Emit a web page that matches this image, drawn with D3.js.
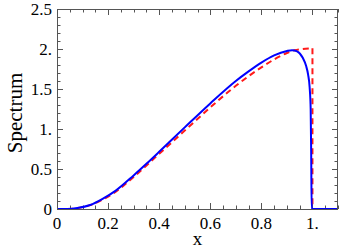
<!DOCTYPE html>
<html>
<head>
<meta charset="utf-8">
<script src="https://cdn.jsdelivr.net/npm/d3@7"></script>
<style>
  body { margin: 0; background: #fff; }
  svg { display: block; font-family: "Liberation Serif", "DejaVu Serif", serif; }
</style>
</head>
<body>
<svg></svg>
<script>
const width = 339;
const height = 249;
const margin = {top: 9, right: 1, bottom: 40, left: 57};

// blue (solid) curve
const blueX = [0, 0.04, 0.08, 0.13, 0.18, 0.23, 0.3, 0.35, 0.4, 0.5, 0.6, 0.7, 0.75, 0.8, 0.85, 0.9, 0.92, 0.94, 0.962, 0.975, 0.983, 0.989, 0.993, 0.995, 0.997, 1.1];
const blueY = [0, 0, 0.012, 0.05, 0.13, 0.23, 0.42, 0.565, 0.715, 1.02, 1.32, 1.6, 1.72, 1.83, 1.92, 1.975, 1.985, 1.97, 1.89, 1.79, 1.68, 1.52, 1.25, 0.7, 0, 0];

// red (dashed) curve, then its drop at x = 1
const redX = [0, 0.04, 0.08, 0.13, 0.18, 0.23, 0.3, 0.4, 0.5, 0.6, 0.7, 0.75, 0.8, 0.85, 0.9, 0.93, 0.96, 1.0];
const redY = [0, 0, 0.012, 0.048, 0.12, 0.215, 0.40, 0.69, 0.98, 1.27, 1.54, 1.66, 1.77, 1.87, 1.95, 1.985, 2.0, 2.01];
const redDropX = [1.0, 1.0, 1.1];
const redDropY = [2.01, 0, 0];

const xTicks = [0, 0.2, 0.4, 0.6, 0.8, 1.0];
const xTickLabels = ["0", "0.2", "0.4", "0.6", "0.8", "1."];
const yTicks = [0, 0.5, 1.0, 1.5, 2.0, 2.5];
const yTickLabels = ["0", "0.5", "1.", "1.5", "2.", "2.5"];

const svg = d3.select("svg")
  .attr("width", width)
  .attr("height", height);

const xScale = d3.scaleLinear()
  .domain([0, 1.1])
  .range([margin.left, width - margin.right]);

const yScale = d3.scaleLinear()
  .domain([0, 2.5])
  .range([height - margin.bottom, margin.top]);

const frameColor = "#555";
const x0 = xScale(0), x1 = xScale(1.1), y0 = yScale(0), y1 = yScale(2.5);

// minor + major ticks on all four sides
const xMinor = d3.range(0, 1.1001, 0.05);
const yMinor = d3.range(0, 2.5001, 0.1);
const isMajor = (v, step) => Math.abs(v / step - Math.round(v / step)) < 1e-6;

const ticks = svg.append("g").attr("stroke", frameColor).attr("stroke-width", 1);
xMinor.forEach(v => {
  const len = isMajor(v, 0.2) ? 6 : 3.5;
  const x = Math.round(xScale(v)) + 0.5;
  ticks.append("line").attr("x1", x).attr("x2", x).attr("y1", y0).attr("y2", y0 - len);
  ticks.append("line").attr("x1", x).attr("x2", x).attr("y1", y1).attr("y2", y1 + len);
});
yMinor.forEach(v => {
  const len = isMajor(v, 0.5) ? 6 : 3.5;
  const y = Math.round(yScale(v)) + 0.5;
  ticks.append("line").attr("x1", x0).attr("x2", x0 + len).attr("y1", y).attr("y2", y);
  ticks.append("line").attr("x1", x1).attr("x2", x1 - len).attr("y1", y).attr("y2", y);
});

// curves
const blueData = blueX.map((x, i) => [x, blueY[i]]);
const redData = redX.map((x, i) => [x, redY[i]]);
const redDrop = redDropX.map((x, i) => [x, redDropY[i]]);

const smooth = d3.line()
  .x(d => xScale(d[0]))
  .y(d => yScale(d[1]))
  .curve(d3.curveMonotoneX);

const straight = d3.line()
  .x(d => xScale(d[0]))
  .y(d => yScale(d[1]));

svg.append("path")
  .attr("d", smooth(redData))
  .attr("fill", "none")
  .attr("stroke", "#ff1a1a")
  .attr("stroke-width", 2)
  .attr("stroke-dasharray", "6,4");

svg.append("path")
  .attr("d", straight(redDrop))
  .attr("fill", "none")
  .attr("stroke", "#ff1a1a")
  .attr("stroke-width", 2)
  .attr("stroke-dasharray", "6,4");

svg.append("path")
  .attr("d", smooth(blueData))
  .attr("fill", "none")
  .attr("stroke", "#0000ff")
  .attr("stroke-width", 2);

// frame
svg.append("rect")
  .attr("x", x0 + 0.5)
  .attr("y", y1 + 0.5)
  .attr("width", x1 - x0 - 1)
  .attr("height", y0 - y1)
  .attr("fill", "none")
  .attr("stroke", frameColor)
  .attr("stroke-width", 1);

// tick labels
svg.append("g")
  .selectAll("text")
  .data(xTicks)
  .enter()
  .append("text")
    .attr("x", d => xScale(d))
    .attr("y", y0 + 20)
    .attr("text-anchor", "middle")
    .attr("font-size", 17)
    .text((d, i) => xTickLabels[i]);

svg.append("g")
  .selectAll("text")
  .data(yTicks)
  .enter()
  .append("text")
    .attr("x", x0 - 5)
    .attr("y", d => yScale(d))
    .attr("dy", "0.33em")
    .attr("text-anchor", "end")
    .attr("font-size", 17)
    .text((d, i) => yTickLabels[i]);

// axis labels
svg.append("text")
  .attr("x", (x0 + x1) / 2)
  .attr("y", height - 4)
  .attr("text-anchor", "middle")
  .attr("font-size", 19)
  .text("x");

svg.append("text")
  .attr("transform", "rotate(-90)")
  .attr("x", -(y0 + y1) / 2 - 4)
  .attr("y", 22)
  .attr("text-anchor", "middle")
  .attr("font-size", 21)
  .text("Spectrum");
</script>
</body>
</html>
